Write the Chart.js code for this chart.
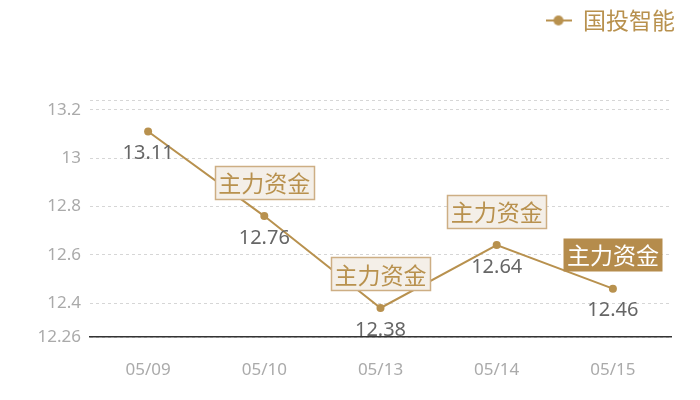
<!DOCTYPE html>
<html><head><meta charset="utf-8">
<script src="https://cdn.jsdelivr.net/npm/chart.js@4/dist/chart.umd.min.js"></script>
<style>html,body{margin:0;padding:0;background:#fff}#wrap{width:700px;height:400px;position:relative}</style>
</head><body><div id="wrap"><canvas id="c"></canvas></div>
<script>
const categories = ['05/09', '05/10', '05/13', '05/14', '05/15'];
const seriesName = '国投智能';
const values = [13.11, 12.76, 12.38, 12.64, 12.46];
const markerLabels = ['', '主力资金', '主力资金', '主力资金', '主力资金'];
const markerHighlight = [false, false, false, false, true];
const yTicks = [12.26, 12.4, 12.6, 12.8, 13, 13.2, 13.24];
const yMin = 12.26, yMax = 13.24;

const GOLD = '#b8914e';
const CJK = '"Noto Sans CJK SC", "Noto Sans", sans-serif';
const NUM = '"Noto Sans", "Open Sans", sans-serif';

// legend marker: line with dot
const mk = document.createElement('canvas');
mk.width = 26; mk.height = 12;
(function(){
  const g = mk.getContext('2d');
  g.strokeStyle = GOLD; g.lineWidth = 2;
  g.beginPath(); g.moveTo(0, 6); g.lineTo(26, 6); g.stroke();
  g.fillStyle = GOLD; g.beginPath(); g.arc(13, 6, 5, 0, Math.PI * 2); g.fill();
})();

const legendSpacer = {
  id: 'legendSpacer',
  beforeInit(chart) {
    const orig = chart.legend.fit;
    chart.legend.fit = function () { orig.call(this); this.height = 100; };
  },
  afterLayout(chart) {
    chart.legend.left += 13; chart.legend.right += 13;
  }
};

const labelsPlugin = {
  id: 'valueLabels',
  afterDatasetsDraw(chart) {
    const ctx = chart.ctx;
    const meta = chart.getDatasetMeta(0);
    ctx.save();
    // value labels
    ctx.font = '20px ' + NUM;
    ctx.fillStyle = '#666666';
    ctx.textAlign = 'center';
    ctx.textBaseline = 'middle';
    meta.data.forEach((pt, i) => {
      ctx.fillText(String(values[i]), pt.x, pt.y + 22);
    });
    // marker boxes
    ctx.font = '23px ' + CJK;
    meta.data.forEach((pt, i) => {
      const txt = markerLabels[i];
      if (!txt) return;
      const w = ctx.measureText(txt).width + 7;
      const h = 33;
      const cx = pt.x, cy = pt.y - 34;
      const x0 = Math.round(cx - w / 2) + 0.5, y0 = Math.round(cy - h / 2) + 0.5;
      if (markerHighlight[i]) {
        ctx.fillStyle = '#b58c4c';
        ctx.fillRect(x0, y0, w, h);
        ctx.fillStyle = '#ffffff';
      } else {
        ctx.fillStyle = '#f4efe8';
        ctx.fillRect(x0, y0, w, h);
        ctx.strokeStyle = '#cdae84';
        ctx.lineWidth = 1.5;
        ctx.strokeRect(x0, y0, w, h);
        ctx.fillStyle = GOLD;
      }
      ctx.fillText(txt, cx, cy + 1);
    });
    ctx.restore();
  }
};

new Chart(document.getElementById('c'), {
  type: 'line',
  data: {
    labels: categories,
    datasets: [{
      label: seriesName,
      data: values,
      borderColor: GOLD,
      backgroundColor: GOLD,
      borderWidth: 2,
      pointRadius: 4,
      pointHoverRadius: 4,
      pointBackgroundColor: GOLD,
      pointBorderWidth: 0,
      tension: 0,
      fill: false
    }]
  },
  options: {
    responsive: true,
    maintainAspectRatio: false,
    animation: false,
    layout: { padding: { left: 0, right: 29, top: 0, bottom: 0 } },
    plugins: {
      tooltip: { enabled: false },
      legend: {
        position: 'top',
        align: 'end',
        labels: {
          usePointStyle: true,
          pointStyle: mk,
          pointStyleWidth: 26,
          boxHeight: 12,
          padding: 9,
          color: GOLD,
          font: { family: CJK, size: 23 }
        }
      }
    },
    scales: {
      x: {
        offset: true,
        grid: { display: false, drawTicks: false },
        border: { display: true, color: '#333333', width: 1.5 },
        ticks: { color: '#aaaaaa', font: { family: NUM, size: 17 }, padding: 23, maxRotation: 0 },
        afterFit(s) { s.height = 63; }
      },
      y: {
        min: yMin,
        max: yMax,
        afterBuildTicks(s) { s.ticks = yTicks.map(v => ({ value: v })); },
        grid: { color: '#d6d6d6', lineWidth: 1, drawTicks: false },
        border: { display: false, dash: [3, 3] },
        ticks: {
          color: '#aaaaaa',
          font: { family: NUM, size: 17 },
          padding: 9,
          callback(v) { return v === yMax ? '' : String(v); }
        },
        afterFit(s) { s.width = 90; }
      }
    }
  },
  plugins: [legendSpacer, labelsPlugin]
});
</script>
</body></html>
